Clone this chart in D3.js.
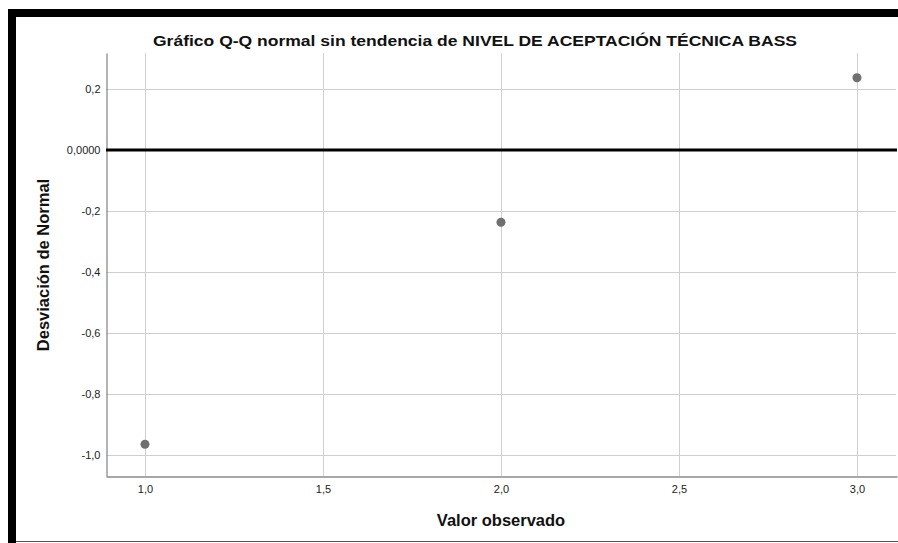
<!DOCTYPE html>
<html>
<head>
<meta charset="utf-8">
<script src="https://cdn.jsdelivr.net/npm/d3@7"></script>
<style>
  html, body { margin: 0; padding: 0; background: #fff; }
  svg { display: block; font-family: "Liberation Sans", Arial, sans-serif; }
</style>
</head>
<body>
<svg id="chart" width="898" height="543"></svg>
<script>
// Detrended normal Q-Q data
const observed = [1.0, 2.0, 3.0];
const deviation = [-0.965, -0.237, 0.237];
const xTicks = [1.0, 1.5, 2.0, 2.5, 3.0];
const yTicks = [0.2, 0.0, -0.2, -0.4, -0.6, -0.8, -1.0];

const title = "Gráfico Q-Q normal sin tendencia de NIVEL DE ACEPTACIÓN TÉCNICA BASS";
const xTitle = "Valor observado";
const yTitle = "Desviación de Normal";

const svg = d3.select("#chart");
const W = 898, H = 543;
const plot = { left: 106, right: 897, top: 53, bottom: 476 };

// frame: black left and top bands, thin bottom line
svg.append("rect").attr("x", 8).attr("y", 9).attr("width", W - 8).attr("height", 8).attr("fill", "#000");
svg.append("rect").attr("x", 8).attr("y", 9).attr("width", 8).attr("height", H - 9).attr("fill", "#000");
svg.append("line").attr("x1", 16).attr("x2", W).attr("y1", 541.5).attr("y2", 541.5)
  .attr("stroke", "#555").attr("stroke-width", 1);

const x = d3.scaleLinear().domain([0.8905, 3.1124]).range([plot.left, plot.right]);
const y = d3.scaleLinear().domain([-1.069, 0.318]).range([plot.bottom, plot.top]);

const fmtY = d => d === 0 ? "0,0000" : d3.format(".1f")(d).replace(".", ",").replace("−", "-");
const fmtX = d => d3.format(".1f")(d).replace(".", ",");

// grid lines
svg.append("g").selectAll("line").data(xTicks).join("line")
  .attr("x1", d => Math.round(x(d)) + 0.5).attr("x2", d => Math.round(x(d)) + 0.5)
  .attr("y1", plot.top).attr("y2", plot.bottom)
  .attr("stroke", "#cfcfcf").attr("stroke-width", 1);
svg.append("g").selectAll("line").data(yTicks.filter(d => d !== 0)).join("line")
  .attr("x1", plot.left).attr("x2", plot.right - 1)
  .attr("y1", d => Math.round(y(d)) + 0.5).attr("y2", d => Math.round(y(d)) + 0.5)
  .attr("stroke", "#cfcfcf").attr("stroke-width", 1);

// axes
const yAxis = d3.axisLeft(y).tickValues(yTicks).tickFormat(fmtY).tickSize(0).tickPadding(6);
const gy = svg.append("g").attr("transform", `translate(${plot.left + 0.5},0)`).call(yAxis);
gy.select(".domain").attr("stroke", "#8a8a8a").attr("stroke-width", 1.3);
gy.selectAll("text").attr("font-size", 11).attr("fill", "#222")
  .attr("font-family", "'Liberation Sans', Arial, sans-serif");

const xAxis = d3.axisBottom(x).tickValues(xTicks).tickFormat(fmtX).tickSize(0).tickPadding(9);
const gx = svg.append("g").attr("transform", `translate(0,${plot.bottom + 0.5})`).call(xAxis);
gx.select(".domain").attr("stroke", "#8a8a8a").attr("stroke-width", 1.3);
gx.selectAll("text").attr("font-size", 11).attr("fill", "#222")
  .attr("font-family", "'Liberation Sans', Arial, sans-serif");

// reference line at zero deviation
svg.append("line")
  .attr("x1", plot.left).attr("x2", plot.right)
  .attr("y1", y(0)).attr("y2", y(0))
  .attr("stroke", "#000").attr("stroke-width", 3);

// points
svg.append("g").selectAll("circle").data(observed.map((v, i) => [v, deviation[i]])).join("circle")
  .attr("cx", d => x(d[0])).attr("cy", d => y(d[1]))
  .attr("r", 4.5).attr("fill", "#707070");

// titles
svg.append("text").attr("x", 475).attr("y", 46).attr("text-anchor", "middle")
  .attr("font-size", 14.5).attr("font-weight", "bold").attr("fill", "#111")
  .attr("textLength", 644).attr("lengthAdjust", "spacingAndGlyphs").text(title);
svg.append("text").attr("x", 501).attr("y", 526).attr("text-anchor", "middle")
  .attr("font-size", 16.5).attr("font-weight", "bold").attr("fill", "#111").text(xTitle);
svg.append("text").attr("transform", `translate(48.5,${265}) rotate(-90)`).attr("text-anchor", "middle")
  .attr("font-size", 16.5).attr("font-weight", "bold").attr("fill", "#111").text(yTitle);
</script>
</body>
</html>
